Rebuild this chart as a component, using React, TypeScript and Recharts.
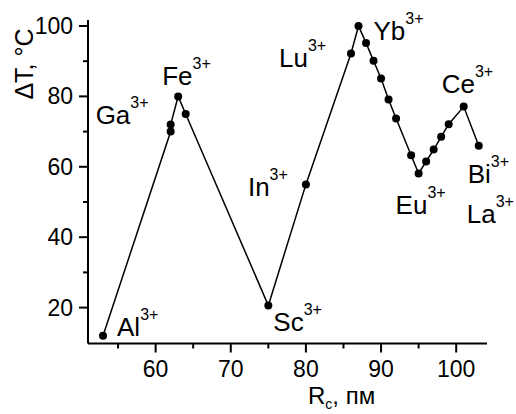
import { LineChart, Line, XAxis, YAxis, Label } from 'recharts'

// ionic radius, pm
const RADII = [53, 62, 62, 63, 64, 75, 80, 86, 87, 88, 89, 90, 91, 92, 94, 95, 96, 97, 98, 99, 101, 103]
// ΔT, °C
const DELTA_T = [12, 70, 72, 80, 75, 20.6, 55, 92.2, 100, 95.2, 90.1, 85.1, 79.1, 73.7, 63.3, 58.1, 61.5, 64.9, 68.5, 72.1, 77.1, 66]
// ion names attached to points (empty = no label)
const IONS = ['Al', '', 'Ga', 'Fe', '', 'Sc', 'In', 'Lu', 'Yb', '', '', '', '', '', '', 'Eu', '', '', '', '', 'Ce', 'Bi']
const EXTRA_IONS: Record<string, string> = { Bi: 'La' }

const X_TICKS = [55, 60, 65, 70, 75, 80, 85, 90, 95, 100]
const Y_TICKS = [20, 30, 40, 50, 60, 70, 80, 90, 100]
const X_MAJOR = [60, 70, 80, 90, 100]
const Y_MAJOR = [20, 40, 60, 80, 100]

const data = RADII.map((r, i) => ({ r, t: DELTA_T[i], ion: IONS[i] }))

const FONT = '"Liberation Sans", Arial, sans-serif'

// label placement relative to the dot (text left, baseline)
const LABEL_OFFSET: Record<string, [number, number]> = {
  Al: [14, 0], Ga: [-75, -1], Fe: [-16, -11], Sc: [5, 26], In: [-58, 12],
  Lu: [-72, 14], Yb: [15, 14], Eu: [-23, 41], Ce: [-22, -14], Bi: [-11, 37], La: [-12, 77],
}

function IonLabel({ name, cx, cy }: { name: string; cx: number; cy: number }) {
  const [dx, dy] = LABEL_OFFSET[name]
  return (
    <text x={cx + dx} y={cy + dy} fontFamily={FONT} fontSize={26} fill="#000">
      <tspan>{name}</tspan>
      <tspan fontSize={16} dy={-16}>3+</tspan>
    </text>
  )
}

function Dot(props: any) {
  const { cx, cy, payload, index } = props
  const ion = payload.ion
  return (
    <g key={`dot-${index}`}>
      <circle cx={cx} cy={cy} r={4} fill="#000" />
      {ion && <IonLabel name={ion} cx={cx} cy={cy} />}
      {ion && EXTRA_IONS[ion] && <IonLabel name={EXTRA_IONS[ion]} cx={cx} cy={cy} />}
    </g>
  )
}

function XTick(props: any) {
  const { x, y, payload } = props
  const major = X_MAJOR.includes(payload.value)
  return (
    <g>
      <line x1={x} x2={x} y1={y} y2={y + (major ? 9 : 5)} stroke="#000" strokeWidth={2} />
      {major && (
        <text x={x} y={y + 33.5} textAnchor="middle" fontFamily={FONT} fontSize={23} fill="#000">
          {payload.value}
        </text>
      )}
    </g>
  )
}

function YTick(props: any) {
  const { x, y, payload } = props
  const major = Y_MAJOR.includes(payload.value)
  return (
    <g>
      <line x1={x} x2={x - (major ? 9 : 5)} y1={y} y2={y} stroke="#000" strokeWidth={2} />
      {major && (
        <text x={x - 15} y={y + 8} textAnchor="end" fontFamily={FONT} fontSize={23} fill="#000">
          {payload.value}
        </text>
      )}
    </g>
  )
}

export default function App() {
  return (
    <div style={{ position: 'absolute', left: 0, top: 0, width: 516, height: 414, background: '#fff' }}>
      <LineChart width={516} height={414} data={data} margin={{ top: 20, right: 29, bottom: 0, left: 28 }}>
        <XAxis
          dataKey="r"
          type="number"
          domain={[51, 104.1]}
          ticks={X_TICKS}
          height={70.5}
          tickSize={0}
          tickMargin={0}
          tickLine={false}
          tick={<XTick />}
          axisLine={{ stroke: '#000', strokeWidth: 2 }}
          interval={0}
        >
          <Label
            content={({ viewBox }: any) => (
              <text x={viewBox.x + 220} y={viewBox.y + 60} fontFamily={FONT} fontSize={24} fill="#000">
                <tspan>R</tspan>
                <tspan fontSize={14} dy={5}>c</tspan>
                <tspan dy={-5}>, пм</tspan>
              </text>
            )}
          />
        </XAxis>
        <YAxis
          type="number"
          domain={[9.8, 101.7]}
          ticks={Y_TICKS}
          width={60}
          tickSize={0}
          tickMargin={0}
          tickLine={false}
          tick={<YTick />}
          axisLine={{ stroke: '#000', strokeWidth: 2 }}
          interval={0}
        >
          <Label
            content={({ viewBox }: any) => {
              const x = viewBox.x + 5
              const y = viewBox.y + 44
              return (
                <text x={x} y={y} transform={`rotate(-90, ${x}, ${y})`} textAnchor="middle" fontFamily={FONT} fontSize={25} fill="#000">
                  ΔT, °C
                </text>
              )
            }}
          />
        </YAxis>
        <Line
          type="linear"
          dataKey="t"
          stroke="#000"
          strokeWidth={1.5}
          dot={(p: any) => <Dot key={`d-${p.index}`} {...p} />}
          activeDot={false}
          isAnimationActive={false}
        />
      </LineChart>
    </div>
  )
}
